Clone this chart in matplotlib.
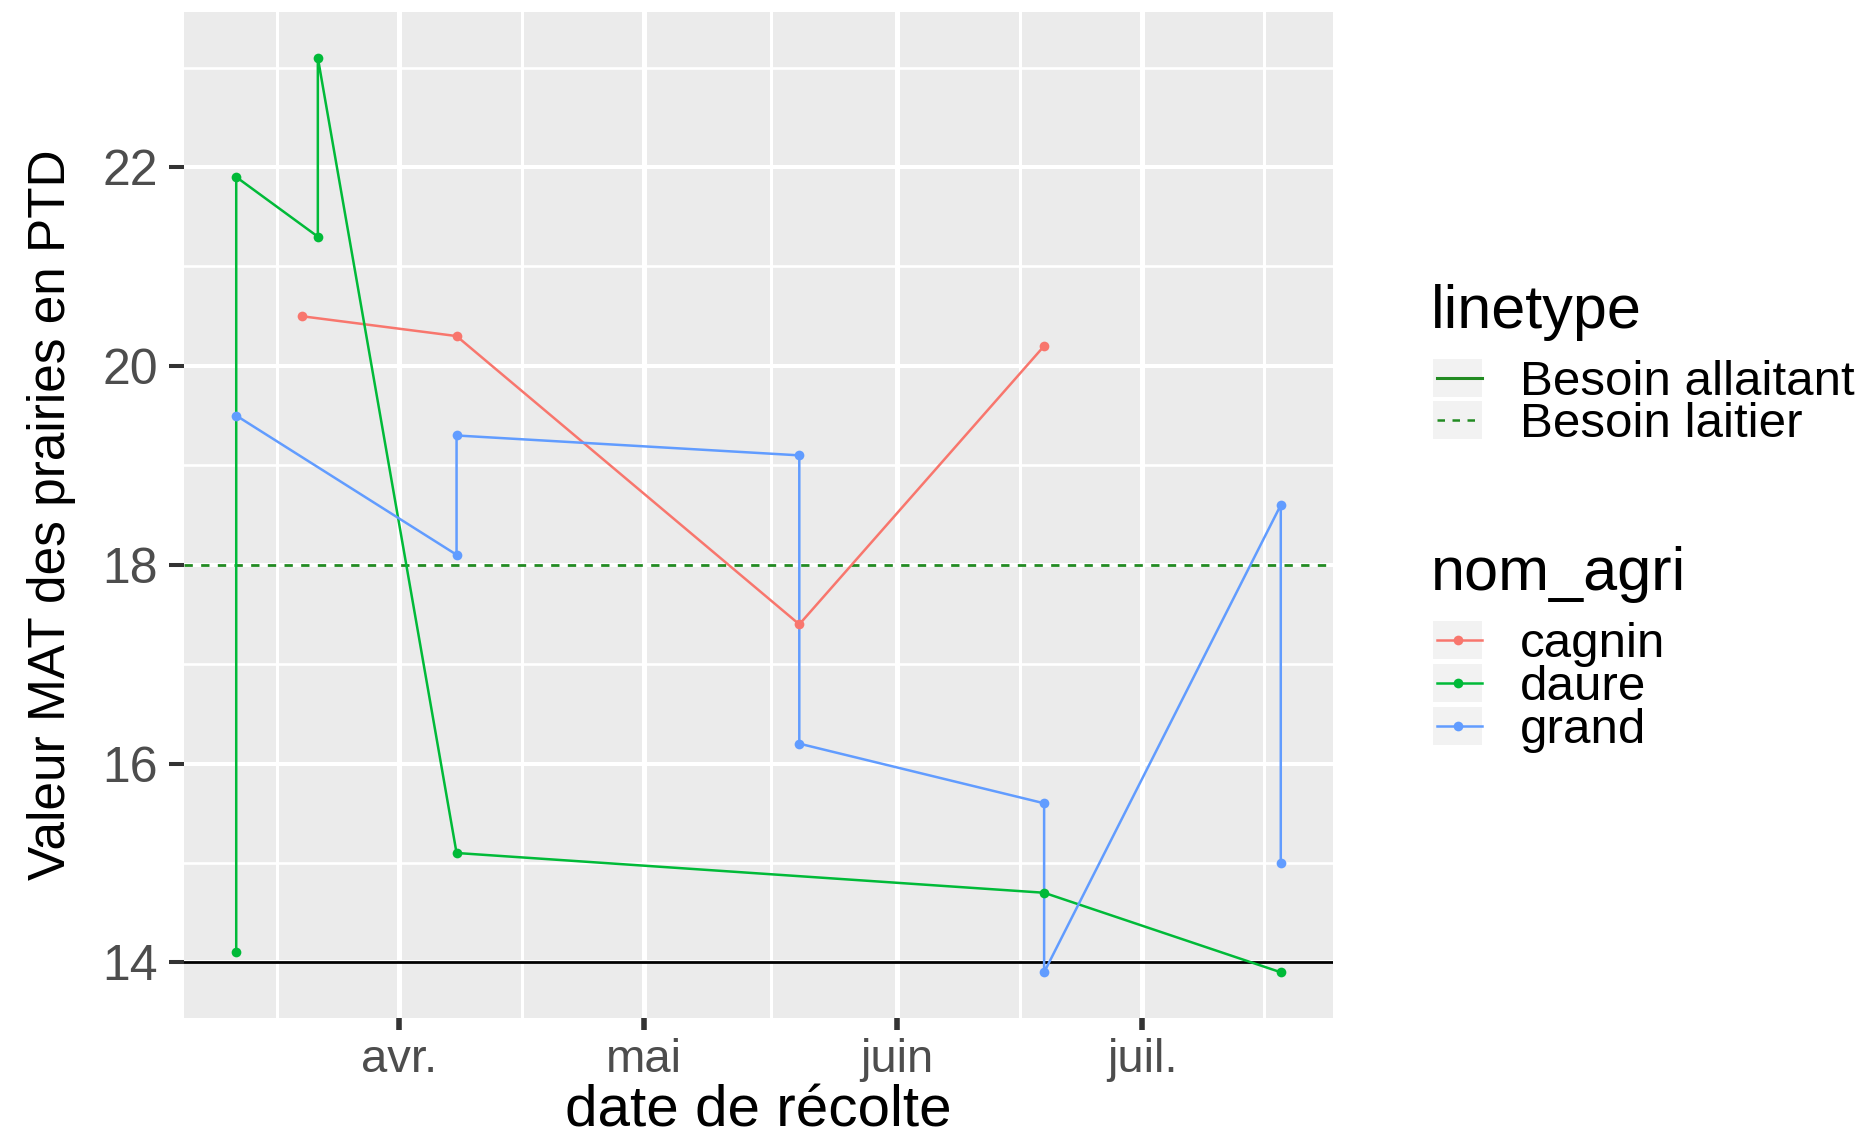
import numpy as np
import pandas as pd
import matplotlib
matplotlib.use('Agg')
import matplotlib.pyplot as plt
import matplotlib.dates as mdates
from matplotlib.ticker import FixedLocator, FuncFormatter, MultipleLocator
from matplotlib.patches import Rectangle

# MAT values per farmer (date de recolte, valeur MAT)
cagnin_dates = ['2021-03-20', '2021-04-08', '2021-05-20', '2021-06-19']
cagnin_mat = [20.5, 20.3, 17.4, 20.2]
daure_dates = ['2021-03-12', '2021-03-12', '2021-03-22', '2021-03-22', '2021-04-08',
               '2021-06-19', '2021-07-18']
daure_mat = [14.1, 21.9, 21.3, 23.1, 15.1, 14.7, 13.9]
grand_dates = ['2021-03-12', '2021-04-08', '2021-04-08', '2021-05-20', '2021-05-20',
               '2021-06-19', '2021-06-19', '2021-07-18', '2021-07-18']
grand_mat = [19.5, 18.1, 19.3, 19.1, 16.2, 15.6, 13.9, 18.6, 15.0]

agri_names = ['cagnin', 'daure', 'grand']
agri_colours = ['#F8766D', '#00BA38', '#619CFF']
agri_dates = [cagnin_dates, daure_dates, grand_dates]
agri_mat = [cagnin_mat, daure_mat, grand_mat]

besoin_labels = ['Besoin allaitant', 'Besoin laitier']
besoin_values = [14, 18]
besoin_colours = ['black', 'forestgreen']
besoin_styles = ['-', '--']

month_labels = {3: 'mars', 4: 'avr.', 5: 'mai', 6: 'juin', 7: 'juil.'}

plt.rcParams['font.family'] = ['Liberation Sans', 'DejaVu Sans']

W, H = 1872, 1141
fig = plt.figure(figsize=(W / 100, H / 100), dpi=100)
ax = fig.add_axes([184 / W, (H - 1018) / H, 1149 / W, 1006 / H])
ax.set_facecolor('#EBEBEB')
for s in ax.spines.values():
	s.set_visible(False)

# horizontal references
for val, col, ls in zip(besoin_values, besoin_colours, besoin_styles):
	ax.axhline(val, color=col, ls=ls, lw=2.0, dashes=(3, 3) if ls == '--' else (None, None), zorder=2)

alld = []
for name, col, d, v in zip(agri_names, agri_colours, agri_dates, agri_mat):
	x = mdates.date2num(pd.to_datetime(d))
	alld.extend(x)
	ax.plot(x, v, '-', color=col, lw=1.8, zorder=3)
	ax.plot(x, v, 'o', color=col, ms=7, mew=0, zorder=4)

allv = np.concatenate([np.array(v) for v in agri_mat])
xmin, xmax = min(alld), max(alld)
ymin, ymax = allv.min(), allv.max()
ax.set_xlim(xmin - 0.05 * (xmax - xmin), xmax + 0.05 * (xmax - xmin))
ax.set_ylim(ymin - 0.05 * (ymax - ymin), ymax + 0.05 * (ymax - ymin))

# x axis : months, minor breaks half way (ggplot style)
lo, hi = ax.get_xlim()
major = [t for t in mdates.MonthLocator().tick_values(mdates.num2date(lo), mdates.num2date(hi)) if lo <= t <= hi]
minor = [(a + b) / 2 for a, b in zip(major[:-1], major[1:])]
minor = [minor[0] - (major[1] - major[0])] + minor + [minor[-1] + (major[-1] - major[-2])]
ax.xaxis.set_major_locator(FixedLocator(major))
ax.xaxis.set_minor_locator(FixedLocator(minor))
ax.xaxis.set_major_formatter(FuncFormatter(lambda t, p: month_labels[mdates.num2date(t).month]))
ax.yaxis.set_major_locator(MultipleLocator(2))
ax.yaxis.set_minor_locator(FixedLocator(np.arange(13, 25, 2)))

ax.grid(True, which='major', axis='x', color='white', lw=3.6, zorder=0)
ax.grid(True, which='minor', axis='x', color='white', lw=2.2, zorder=0)
ax.grid(True, which='major', axis='y', color='white', lw=2.9, zorder=0)
ax.grid(True, which='minor', axis='y', color='white', lw=1.9, zorder=0)
ax.set_axisbelow(True)

ax.tick_params(axis='x', which='major', length=8.6, width=4, color='#333333', pad=6,
               labelsize=34, labelcolor='#4D4D4D')
ax.tick_params(axis='y', which='major', length=10.8, width=2.9, color='#333333', pad=8,
               labelsize=36, labelcolor='#4D4D4D')
ax.tick_params(which='minor', length=0)

ax.set_xlabel('date de récolte', fontsize=42, color='black')
ax.set_ylabel('Valeur MAT des prairies en PTD', fontsize=37, color='black')
ax.xaxis.set_label_coords(0.5, -0.066)
ax.yaxis.set_label_coords(-0.094, 0.5)

# legends drawn in pixel space on the right
lax = fig.add_axes([0, 0, 1, 1])
lax.set_xlim(0, W)
lax.set_ylim(H, 0)
lax.axis('off')
lax.patch.set_visible(False)

kx0, kx1 = 1433, 1482
lax.text(1431, 328, 'linetype', fontsize=44, va='baseline', ha='left')
for i, (lab, ls) in enumerate(zip(besoin_labels, besoin_styles)):
	y0 = 359 + i * 42
	lax.add_patch(Rectangle((kx0, y0), kx1 - kx0, 38, facecolor='#F2F2F2', edgecolor='none'))
	yc = y0 + 19
	lax.plot([kx0 + 4, kx1], [yc, yc], color='forestgreen', lw=2.2 if ls == '-' else 1.8,
	         ls=ls, dashes=(3, 3) if ls == '--' else (None, None))
	lax.text(1520, yc + 17, lab, fontsize=35.5, va='baseline', ha='left')

lax.text(1431, 590, 'nom_agri', fontsize=44, va='baseline', ha='left')
for i, (lab, col) in enumerate(zip(agri_names, agri_colours)):
	y0 = 621 + i * 43
	lax.add_patch(Rectangle((kx0, y0), kx1 - kx0, 38, facecolor='#F2F2F2', edgecolor='none'))
	yc = y0 + 19
	lax.plot([kx0 + 4, kx1], [yc, yc], color=col, lw=1.8)
	lax.plot([(kx0 + kx1) / 2], [yc], 'o', color=col, ms=7, mew=0)
	lax.text(1520, yc + 17, lab, fontsize=35.5, va='baseline', ha='left')

fig.savefig('out.png', dpi=100)
